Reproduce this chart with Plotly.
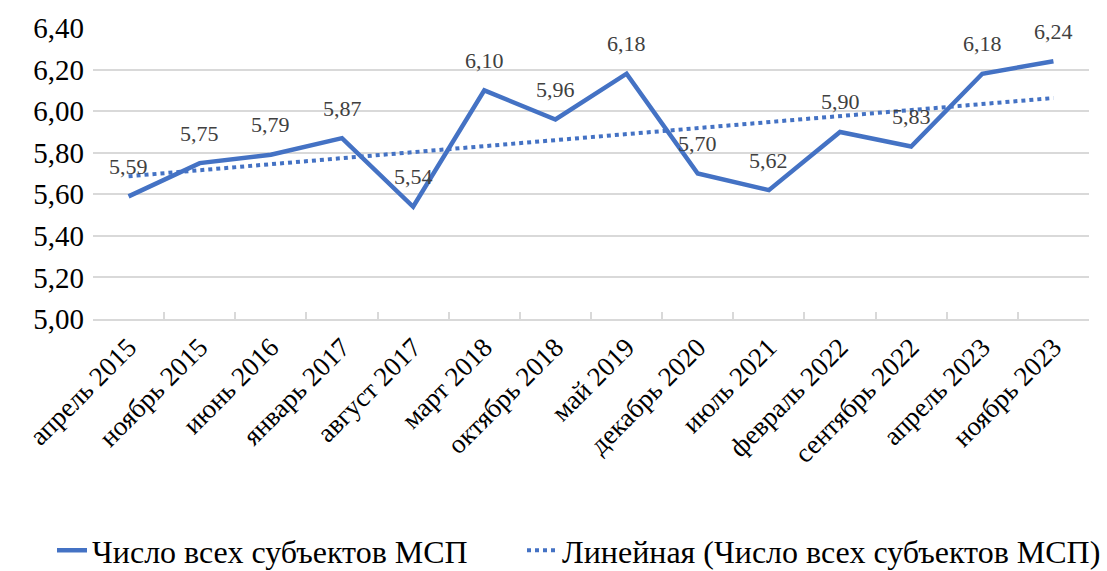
import numpy as np
import plotly.graph_objects as go

categories = ["апрель 2015", "ноябрь 2015", "июнь 2016", "январь 2017", "август 2017",
              "март 2018", "октябрь 2018", "май 2019", "декабрь 2020", "июль 2021",
              "февраль 2022", "сентябрь 2022", "апрель 2023", "ноябрь 2023"]
values = [5.59, 5.75, 5.79, 5.87, 5.54, 6.10, 5.96, 6.18, 5.70, 5.62, 5.90, 5.83, 6.18, 6.24]
y_ticks = [5.0, 5.2, 5.4, 5.6, 5.8, 6.0, 6.2, 6.4]

# Linear trendline (least squares), as in the original spreadsheet chart
idx = np.arange(1, len(values) + 1)
slope, intercept = np.polyfit(idx, values, 1)
trend = slope * idx + intercept

FONT = "Liberation Serif, Times New Roman, serif"
BLUE = "#4472C4"
W, H = 1107, 571

fig = go.Figure()
fig.add_trace(go.Scatter(
    x=categories, y=values, mode="lines",
    name="Число всех субъектов МСП",
    line=dict(color=BLUE, width=4.5), legend="legend",
))
fig.add_trace(go.Scatter(
    x=categories, y=trend, mode="lines",
    name="Линейная (Число всех субъектов МСП)",
    line=dict(color=BLUE, width=4, dash="dot"), legend="legend2",
))

for c, v in zip(categories, values):
    fig.add_annotation(
        x=c, y=v, text=f"{v:.2f}".replace(".", ","), showarrow=False,
        yshift=30, font=dict(family=FONT, size=22, color="#404040"),
    )

legend_common = dict(
    orientation="h", xref="container", yref="container",
    xanchor="left", y=0.036, yanchor="middle",
    font=dict(family=FONT, size=32, color="black"),
    bgcolor="rgba(0,0,0,0)",
)

fig.update_layout(
    width=W, height=H,
    margin=dict(l=93, r=18, t=28, b=252, autoexpand=False),
    paper_bgcolor="white", plot_bgcolor="white",
    font=dict(family=FONT, color="black"),
    showlegend=True,
    legend=dict(x=52 / W, **legend_common),
    legend2=dict(x=522 / W, **legend_common),
)
fig.update_xaxes(
    type="category", tickangle=-45, automargin=False,
    range=[-0.5, len(categories) - 0.5],
    tickfont=dict(family=FONT, size=27, color="black"),
    showline=True, linecolor="#d9d9d9", linewidth=1.5,
    ticks="inside", ticklen=7, tickcolor="#d9d9d9", tickwidth=1.5,
    tickson="boundaries", showgrid=False,
)
fig.update_yaxes(
    range=[5.0, 6.4], tickvals=y_ticks, automargin=False,
    ticktext=[f"{t:.2f}".replace(".", ",") for t in y_ticks],
    tickfont=dict(family=FONT, size=29, color="black"),
    showgrid=True, gridcolor="#d9d9d9", gridwidth=1.5,
    zeroline=False, showline=False, ticks="", ticklabelstandoff=8,
)

fig.write_html("out.html", config={"displayModeBar": False},
               post_script="document.body.style.margin='0';")
